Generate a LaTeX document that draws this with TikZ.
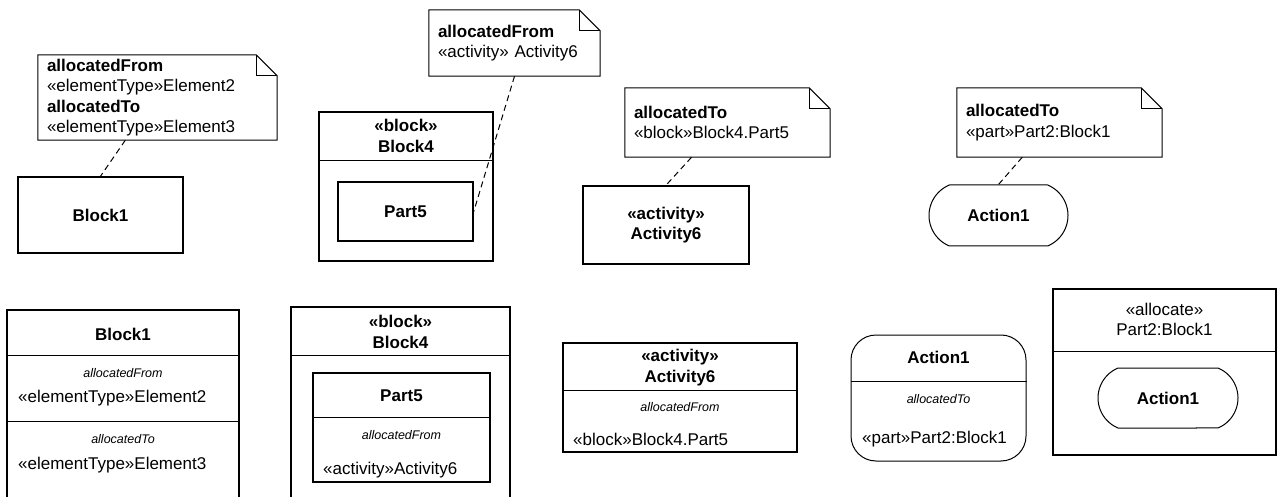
\documentclass[tikz,border=0pt]{standalone}
\usepackage{fontspec}
\setmainfont{Liberation Sans}
\usetikzlibrary{shapes.misc,calc}

\newcommand{\nfont}{\fontsize{17}{20.5}\selectfont}
\newcommand{\sfont}{\fontsize{12.5}{15}\selectfont}

% note outline with folded corner
\newcommand{\dogear}[1]{%
  \draw[notel] (#1.north west) -- ([xshift=-21pt]#1.north east) -- ([yshift=-21pt]#1.north east)
    -- (#1.south east) -- (#1.south west) -- cycle;
  \draw[notel] ([xshift=-21pt]#1.north east) |- ([yshift=-21pt]#1.north east);}

\begin{document}
\begin{tikzpicture}[x=1pt, y=-1pt,
    box/.style={rectangle, draw, line width=1.5pt, inner sep=0pt, align=center, font=\bfseries\nfont},
    note/.style={rectangle, inner xsep=9pt, inner ysep=0pt, text width=#1, align=left, font=\nfont},
    notel/.style={line width=1pt},
    act/.style={rounded rectangle, rounded rectangle arc length=135, draw, line width=1pt, inner sep=0pt, font=\bfseries\nfont},
    sep/.style={line width=1pt},
    lbl/.style={font=\bfseries\nfont, align=center, inner sep=0pt},
    plain/.style={font=\nfont, align=center, inner sep=0pt},
    tag/.style={font=\itshape\sfont, inner sep=0pt},
    val/.style={font=\nfont, anchor=west, inner sep=0pt},
    trace/.style={line width=1pt, dash pattern=on 6pt off 4pt}
]
    \useasboundingbox (0,0) rectangle (1278,497);
    \clip (0,0) rectangle (1278,497);

    % Notes
    \node[note=221pt, minimum height=85pt] (n1) at (157.5,97.5)
        {\textbf{allocatedFrom}\\«elementType»Element2\\\textbf{allocatedTo}\\«elementType»Element3};
    \node[note=153pt, minimum height=66pt] (n2) at (514.5,43)
        {\textbf{allocatedFrom}\\«activity» Activity6};
    \node[note=187pt, minimum height=69pt] (n3) at (727.5,122.5)
        {\textbf{allocatedTo}\\«block»Block4.Part5};
    \node[note=187pt, minimum height=69pt] (n4) at (1059.5,122.5)
        {\textbf{allocatedTo}\\«part»Part2:Block1};
    \dogear{n1}
    \dogear{n2}
    \dogear{n3}
    \dogear{n4}

    % Top row
    \node[box, minimum width=165pt, minimum height=76pt] (b1) at (100.5,215) {Block1};
    \node[box, minimum width=174pt, minimum height=149pt] (blk4) at (406,186.5) {};
    \draw[sep] ([yshift=-49pt]blk4.north west) -- ([yshift=-49pt]blk4.north east);
    \node[lbl] (blk4t) at (406,136) {«block»\\Block4};
    \node[box, minimum width=135pt, minimum height=59pt] (p5) at (405.5,211.5) {Part5};
    \node[box, minimum width=166pt, minimum height=78pt] (act6) at (666,225) {«activity»\\Activity6};
    \node[act, minimum width=139pt, minimum height=61pt] (a1) at (998.5,215.5) {Action1};

    \draw[trace] (n1.233) -- (b1.north);
    \draw[trace] (n2.south) -- (p5.east);
    \draw[trace] (n3.224) -- (act6.north);
    \draw[trace] (n4.223) -- (a1.north);

    % Bottom row: Block1
    \node[box, minimum width=232pt, minimum height=210pt] (bb1) at (123,415) {};
    \draw[sep] ([yshift=-46pt]bb1.north west) -- ([yshift=-46pt]bb1.north east);
    \draw[sep] ([yshift=-112pt]bb1.north west) -- ([yshift=-112pt]bb1.north east);
    \node[lbl] (bb1t) at (123,334) {Block1};
    \node[tag] (bb1f) at (123,373) {allocatedFrom};
    \node[val] (bb1e2) at (18,398) {«elementType»Element2};
    \node[tag] (bb1to) at (123,439) {allocatedTo};
    \node[val] (bb1e3) at (18,465) {«elementType»Element3};

    % Bottom row: Block4 / Part5
    \node[box, minimum width=219pt, minimum height=213pt] (bb4) at (400.5,413.5) {};
    \draw[sep] ([yshift=-49pt]bb4.north west) -- ([yshift=-49pt]bb4.north east);
    \node[lbl] (bb4t) at (400.5,332) {«block»\\Block4};
    \node[box, minimum width=177pt, minimum height=109pt] (bp5) at (401.5,427.5) {};
    \draw[sep] ([yshift=-45pt]bp5.north west) -- ([yshift=-45pt]bp5.north east);
    \node[lbl] (bp5t) at (401.5,396) {Part5};
    \node[tag] (bp5f) at (401.5,435) {allocatedFrom};
    \node[val] (bp5a) at (323,470) {«activity»Activity6};

    % Bottom row: Activity6
    \node[box, minimum width=234pt, minimum height=109pt] (ba6) at (680,397.5) {};
    \draw[sep] ([yshift=-48pt]ba6.north west) -- ([yshift=-48pt]ba6.north east);
    \node[lbl] (ba6t) at (680,367.5) {«activity»\\Activity6};
    \node[tag] (ba6f) at (680,407) {allocatedFrom};
    \node[val] (ba6b) at (573,439) {«block»Block4.Part5};

    % Bottom row: Action1
    \node[rectangle, draw, rounded corners=25pt, line width=1pt, minimum width=175pt, minimum height=126pt] (ba1) at (938.5,398) {};
    \draw[sep] ([yshift=-47pt]ba1.north west) -- ([yshift=-47pt]ba1.north east);
    \node[lbl] (ba1t) at (938.5,357) {Action1};
    \node[tag] (ba1to) at (938.5,399) {allocatedTo};
    \node[val] (ba1p) at (862,439) {«part»Part2:Block1};

    % Allocate partition
    \node[box, minimum width=223pt, minimum height=166pt] (alc) at (1164.5,372) {};
    \draw[sep] ([yshift=-63pt]alc.north west) -- ([yshift=-63pt]alc.north east);
    \node[plain] (alct) at (1164.5,319.5) {«allocate»\\Part2:Block1};
    \node[act, minimum width=140pt, minimum height=60pt] (ia1) at (1168,398) {Action1};
\end{tikzpicture}
\end{document}
